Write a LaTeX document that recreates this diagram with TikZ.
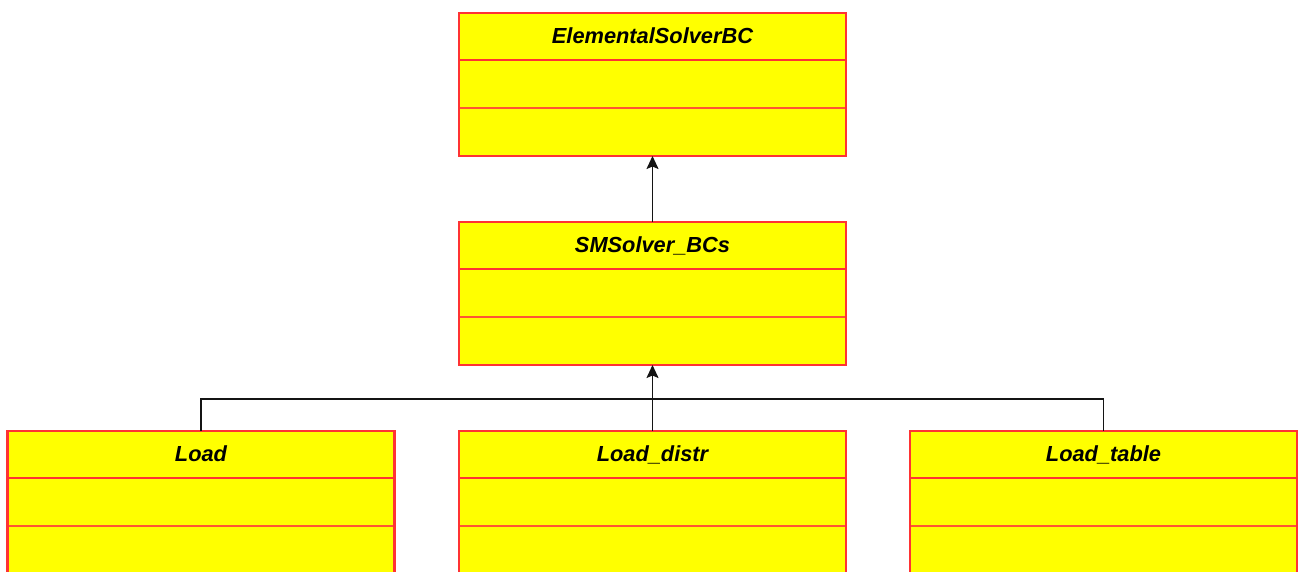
\documentclass[tikz,border=0pt]{standalone}
\usepackage{fontspec}
\setmainfont{Liberation Sans}
\usetikzlibrary{arrows.meta,calc}
\definecolor{umlred}{RGB}{255,51,51}
\definecolor{umlsep}{RGB}{255,85,51}
\definecolor{umlfill}{RGB}{255,255,0}
\definecolor{connclr}{RGB}{20,20,20}
\newcommand{\umlclass}[4]{%
  \node[umlbox, anchor=north] (#1) at (#2,#3) {};
  \draw[sepline] ($(#1.north west)+(0,95)$) -- ($(#1.north east)+(0,95)$);
  \draw[hdrline] ($(#1.north west)+(0,47)$) -- ($(#1.north east)+(0,47)$);
  \draw[umlborder] (#1.north west) rectangle (#1.south east);
  \node[umltitle, anchor=base] (#1T) at ($(#1.north)+(0,30.5)$) {#4};
}
\begin{document}
\begin{tikzpicture}[x=1pt,y=-1pt,
  umlbox/.style={fill=umlfill, minimum width=387pt, minimum height=143pt, inner sep=0pt, outer sep=0pt},
  umlborder/.style={draw=umlred, line width=2.2pt},
  hdrline/.style={draw=umlred, line width=2.2pt},
  sepline/.style={draw=umlsep, line width=1.1pt},
  umltitle/.style={inner sep=0pt, font=\fontsize{21.8}{26}\selectfont\bfseries\itshape},
  conn/.style={draw=connclr, line width=1.6pt},
  inh/.style={conn, -{Stealth[length=13pt,width=12pt,inset=2.5pt]}}]
\useasboundingbox (0,0) rectangle (1299,571);
\clip (0,0) rectangle (1299,571);
\fill[white] (0,0) rectangle (1299,571);
\umlclass{top}{652.5}{13}{ElementalSolverBC}
\umlclass{mid}{652.5}{222}{SMSolver\_BCs}
\umlclass{load}{201}{431}{Load}
\umlclass{distr}{652.5}{431}{Load\_distr}
\umlclass{ltab}{1103.5}{431}{Load\_table}
\coordinate (j) at (652.5,399);
\draw[inh] (mid.north) -- (top.south);
\draw[inh] (distr.north) -- (mid.south);
\draw[conn] (load.north) -- (load.north |- j) -- (ltab.north |- j) -- (ltab.north);
\end{tikzpicture}
\end{document}
